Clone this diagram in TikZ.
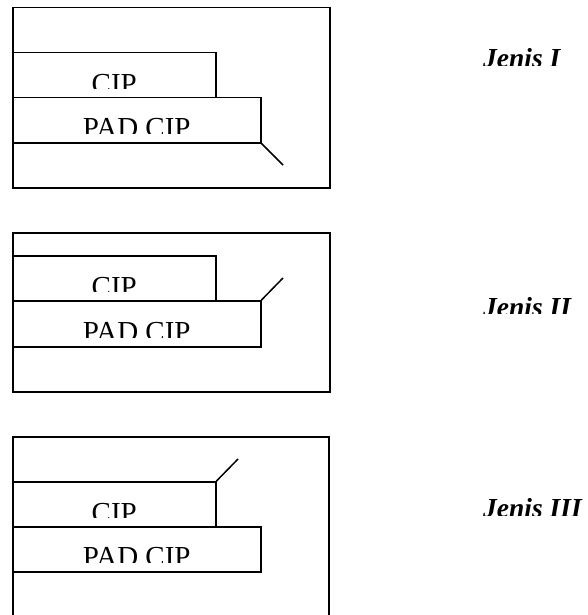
\documentclass[tikz,border=0pt]{standalone}
\usepackage{fontspec}
\setmainfont{Liberation Serif}
\usetikzlibrary{positioning}

\begin{document}
\begin{tikzpicture} [
  x=1pt, y=-1pt,
  every node/.style={inner sep=0},
  frame/.style={draw,line width=1.5pt,anchor=north west},
  boxtext/.style={anchor=base,font=\fontsize{29}{29}\selectfont},
  kind/.style={anchor=base west,font=\fontsize{27.5}{27.5}\selectfont\bfseries\itshape}
  ]
  \clip (0,0) rectangle (587,615);

  % first layout: slash below the pad
  \node (outer1) [frame,minimum width=317,minimum height=180] at (12,7) {};
  \node (cip1) [frame,minimum width=203,minimum height=45] at (12,52) {};
  \node (pad1) [frame,minimum width=248,minimum height=45] at (12,97) {};
  \begin{scope}
    \clip (cip1.north west) rectangle ([yshift=10pt]cip1.south east);
    \node (cipt1) [boxtext] at ([yshift=5pt]cip1.south) {CIP};
  \end{scope}
  \begin{scope}
    \clip (pad1.north west) rectangle ([yshift=10pt]pad1.south east);
    \node (padt1) [boxtext] at ([yshift=6pt]pad1.south) {PAD CIP};
  \end{scope}
  \coordinate (tip1) at (283,165);
  \draw [line width=1.5pt] (pad1.south east) -- (tip1);

  % second layout: slash above the pad
  \node (outer2) [frame,minimum width=317,minimum height=159] at (12,232) {};
  \node (cip2) [frame,minimum width=203,minimum height=45] at (12,255) {};
  \node (pad2) [frame,minimum width=248,minimum height=46] at (12,300) {};
  \begin{scope}
    \clip (cip2.north west) rectangle ([yshift=10pt]cip2.south east);
    \node (cipt2) [boxtext] at ([yshift=5pt]cip2.south) {CIP};
  \end{scope}
  \begin{scope}
    \clip (pad2.north west) rectangle ([yshift=10pt]pad2.south east);
    \node (padt2) [boxtext] at ([yshift=6pt]pad2.south) {PAD CIP};
  \end{scope}
  \coordinate (tip2) at (283,278);
  \draw [line width=1.5pt] (pad2.north east) -- (tip2);

  % third layout: slash above the cip
  \node (outer3) [frame,minimum width=316,minimum height=181] at (12,436) {};
  \node (cip3) [frame,minimum width=203,minimum height=45] at (12,481) {};
  \node (pad3) [frame,minimum width=248,minimum height=45] at (12,526) {};
  \begin{scope}
    \clip (cip3.north west) rectangle ([yshift=10pt]cip3.south east);
    \node (cipt3) [boxtext] at ([yshift=5pt]cip3.south) {CIP};
  \end{scope}
  \begin{scope}
    \clip (pad3.north west) rectangle ([yshift=10pt]pad3.south east);
    \node (padt3) [boxtext] at ([yshift=6pt]pad3.south) {PAD CIP};
  \end{scope}
  \coordinate (tip3) at (238,459);
  \draw [line width=1.5pt] (cip3.north east) -- (tip3);

  % names on the right
  \begin{scope}
    \clip (460,30) rectangle (587,66);
    \node (jenis1) [kind] at (483,68) {Jenis I};
  \end{scope}
  \begin{scope}
    \clip (460,270) rectangle (587,313);
    \node (jenis2) [kind] at (483,316) {Jenis II};
  \end{scope}
  \begin{scope}
    \clip (460,470) rectangle (587,515);
    \node (jenis3) [kind] at (483,517) {Jenis III};
  \end{scope}
\end{tikzpicture}
\end{document}
